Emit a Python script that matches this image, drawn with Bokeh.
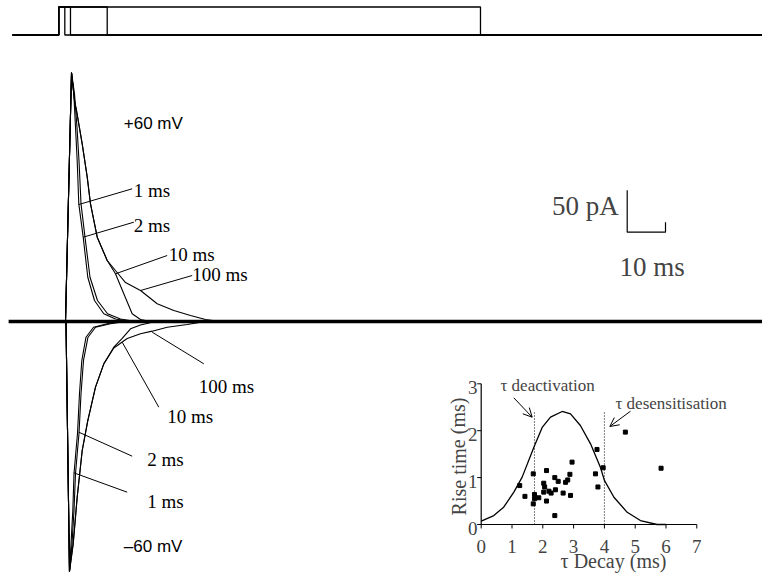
from bokeh.plotting import figure
from bokeh.models import Range1d, Label, Arrow, OpenHead
from bokeh.embed import file_html
from bokeh.resources import INLINE

# ---------------- data ----------------
# stimulus protocol: pulse durations (ms) and recording window (ms)
pulse_durations = [1.57, 3.05, 12.64, 110.1]
stim_window = [-12.1, 183.8]
record_window = [-13.1, 183.8]

# currents at +60 mV (time ms, current pA)
up_1ms_t = [1.75, 3.32, 3.92, 4.36, 4.80, 5.22, 6.37, 7.57, 9.32, 11.75, 14.80, 18.72]
up_1ms_i = [0, 296.4, 271.1, 231.3, 191.7, 140.1, 100.4, 52.7, 25.0, 9.2, 3.0, 0]
up_2ms_t = [1.75, 3.32, 4.10, 4.75, 5.27, 5.80, 6.84, 8.15, 10.10, 12.72, 16.11, 20.03]
up_2ms_i = [0, 296.4, 271.1, 231.3, 191.7, 140.1, 100.4, 52.7, 25.0, 9.2, 3.0, 0]
up_10ms_t = [1.75, 3.32, 4.10, 4.62, 6.11, 7.42, 8.28, 10.03, 12.64, 14.80, 16.97, 19.16, 21.33, 23.94]
up_10ms_i = [0, 296.4, 263.1, 251.2, 211.5, 171.8, 140.1, 100.4, 72.6, 56.8, 33.0, 9.2, 2.4, 0]
up_100ms_t = [1.75, 3.32, 4.10, 4.62, 6.11, 7.42, 8.28, 10.03, 12.64, 14.80, 17.42, 21.33, 25.69, 30.03, 34.39, 38.30, 42.22]
up_100ms_i = [0, 296.4, 263.1, 251.2, 211.5, 171.8, 140.1, 100.4, 72.6, 60.7, 46.4, 36.9, 21.1, 13.1, 7.1, 2.4, 0]

# currents at -60 mV
dn_1ms_t = [1.88, 2.79, 3.19, 3.66, 3.97, 4.49, 4.88, 5.40, 6.01, 7.10, 9.06, 12.64, 16.11]
dn_1ms_i = [0, -297.6, -264.6, -225.0, -181.3, -153.6, -133.7, -86.1, -46.4, -18.7, -6.8, -2.7, 0]
dn_2ms_t = [1.88, 2.79, 3.45, 3.97, 4.36, 4.88, 5.27, 5.80, 6.45, 7.62, 9.58, 13.50, 17.42]
dn_2ms_i = [0, -297.6, -264.6, -225.0, -181.3, -153.6, -133.7, -86.1, -46.4, -18.7, -6.8, -2.7, 0]
dn_10ms_t = [1.88, 2.79, 3.76, 4.80, 6.11, 7.57, 9.58, 11.75, 14.36, 16.55, 18.72, 21.33, 25.25]
dn_10ms_i = [0, -297.6, -264.6, -209.2, -153.6, -117.9, -78.2, -50.4, -30.6, -20.2, -8.7, -4.2, 0]
dn_100ms_t = [1.88, 2.79, 3.76, 4.80, 6.11, 7.57, 9.58, 11.75, 14.36, 17.86, 21.33, 24.39, 28.30, 33.52, 38.30]
dn_100ms_i = [0, -297.6, -264.6, -209.2, -153.6, -117.9, -78.2, -50.4, -31.5, -20.2, -14.6, -11.5, -6.8, -3.6, 0]

# scale bar
scale_pA = 50
scale_ms = 10

# inset: tau decay (ms) vs rise time (ms)
decay_tau = [1.25, 1.42, 1.69, 1.73, 1.69, 1.73, 1.87, 2.03, 2.06, 2.12, 2.03, 2.12, 2.20,
             2.27, 2.39, 2.41, 2.50, 2.39, 2.66, 2.74, 2.81, 2.88, 2.90, 2.95, 3.71, 3.76,
             3.79, 3.96, 4.68, 5.84]
rise_time = [0.83, 0.60, 1.08, 0.64, 0.44, 0.55, 0.57, 0.88, 0.80, 1.15, 0.69, 0.50, 0.71,
             0.67, 1.00, 0.74, 0.92, 0.19, 0.67, 0.90, 0.95, 1.07, 0.62, 1.33, 1.08, 1.60,
             0.80, 1.21, 1.97, 1.20]
curve_tau = [0.0, 0.41, 0.73, 1.06, 1.33, 1.73, 1.98, 2.25, 2.63, 2.90, 3.22, 3.55, 3.87,
             4.00, 4.31, 4.74, 5.17, 5.71, 6.0]
curve_amp = [0.07, 0.19, 0.37, 0.69, 1.01, 1.68, 2.07, 2.29, 2.41, 2.36, 2.11, 1.72, 1.22,
             0.94, 0.58, 0.26, 0.085, 0.0, 0.0]
tau_deactivation = 1.73
tau_desensitisation = 4.0
marker_top = 2.39
inset_xticks = [0, 1, 2, 3, 4, 5, 6, 7]
inset_yticks = [0, 1, 2, 3]

# ---------------- layout helpers (pixel geometry) ----------------
W, H = 762, 577
OFF = 0
MS_PX, T0_PX = 3.83, 58.3
PA_PX, BASE_PX = 0.84, 321.0
S0_PX, S_PX = 34.5, 28.0
IX0, IXS = 480.7, 30.8
IY0, IYS = 524.0, 46.9


def tx(px):
    return (px - T0_PX) / MS_PX


def ty(py):
    return (BASE_PX - py) / PA_PX


def ix(px):
    return (px - IX0) / IXS


def iy(py):
    return (IY0 - py) / IYS


def sy(py):
    return (S0_PX - py) / S_PX


p = figure(width=W, height=H, output_backend="svg", toolbar_location=None,
           x_axis_type=None, y_axis_type=None,
           x_range=Range1d(tx(OFF), tx(OFF + W)),
           y_range=Range1d(ty(OFF + H), ty(OFF)),
           min_border=0)
p.min_border_left = p.min_border_right = p.min_border_top = p.min_border_bottom = 0
p.outline_line_color = None
p.grid.visible = False
p.background_fill_color = "white"
p.border_fill_color = "white"
p.extra_y_ranges = {"stim": Range1d(sy(OFF + H), sy(OFF)),
                    "iy": Range1d(iy(OFF + H), iy(OFF))}
p.extra_x_ranges = {"ix": Range1d(ix(OFF), ix(OFF + W))}

# ---------------- stimulus protocol ----------------
for d in pulse_durations:
    p.line([stim_window[0], 0, 0, d, d, stim_window[1]], [0, 0, 1, 1, 0, 0],
           y_range_name="stim", line_color="black", line_width=1.3)

# ---------------- current traces ----------------
p.line(record_window, [0, 0], line_color="black", line_width=3.5)
for t, i in [(up_1ms_t, up_1ms_i), (up_2ms_t, up_2ms_i), (up_10ms_t, up_10ms_i),
             (up_100ms_t, up_100ms_i), (dn_1ms_t, dn_1ms_i), (dn_2ms_t, dn_2ms_i),
             (dn_10ms_t, dn_10ms_i), (dn_100ms_t, dn_100ms_i)]:
    p.line(t, i, line_color="black", line_width=1.1)

# leader lines (pixel endpoints)
leaders = [((78.3, 204), (131.7, 188.3)), ((82.7, 236.7), (133.3, 221.7)),
           ((115, 273.3), (166.7, 255)), ((140, 290), (191.7, 275)),
           ((151.7, 331.7), (203.3, 363.3)), ((121.7, 341.7), (158.3, 406.7)),
           ((78.3, 431.7), (131.7, 455.7)), ((73.3, 472.3), (126.7, 491.7))]
p.segment(x0=[tx(a[0]) for a, b in leaders], y0=[ty(a[1]) for a, b in leaders],
          x1=[tx(b[0]) for a, b in leaders], y1=[ty(b[1]) for a, b in leaders],
          line_color="black", line_width=1)

serif = "Liberation Serif"
labels = [("1 ms", 133.3, 190), ("2 ms", 133.3, 224.5), ("10 ms", 168.3, 254),
          ("100 ms", 191.7, 274), ("100 ms", 198.3, 386), ("10 ms", 166.7, 416),
          ("2 ms", 146.7, 459), ("1 ms", 146.7, 501)]
for txt, px, py in labels:
    p.add_layout(Label(x=tx(px), y=ty(py), text=txt, text_font=serif,
                       text_font_size="19px", text_align="left",
                       text_baseline="middle", text_color="black"))

for txt, py in [("+60 mV", 123.3), ("\u201360 mV", 546)]:
    p.add_layout(Label(x=tx(123.3), y=ty(py), text=txt, text_font="Liberation Sans",
                       text_font_size="17px", text_align="left",
                       text_baseline="middle", text_color="black"))

# ---------------- scale bar ----------------
sb_t0 = tx(626.7)
sb_i0 = ty(231.7)
p.line([sb_t0, sb_t0, sb_t0 + scale_ms, sb_t0 + scale_ms],
       [sb_i0 + scale_pA, sb_i0, sb_i0, sb_i0 + 10 / PA_PX],
       line_color="black", line_width=1.2)
p.add_layout(Label(x=tx(618.3), y=ty(205), text="50 pA", text_font=serif,
                   text_font_size="27px", text_align="right", text_baseline="middle"))
p.add_layout(Label(x=tx(651.7), y=ty(266.7), text="10 ms", text_font=serif,
                   text_font_size="27px", text_align="center", text_baseline="middle"))

# ---------------- inset ----------------
kw = dict(x_range_name="ix", y_range_name="iy")
p.line([0, inset_xticks[-1]], [0, 0], line_color="black", line_width=1.2, **kw)
p.line([0, 0], [0, inset_yticks[-1]], line_color="black", line_width=1.2, **kw)
p.segment(x0=inset_xticks, y0=[0] * len(inset_xticks), x1=inset_xticks,
          y1=[-4 / IYS] * len(inset_xticks), line_color="black", line_width=1, **kw)
p.segment(x0=[0] * len(inset_yticks), y0=inset_yticks, x1=[-4 / IXS] * len(inset_yticks),
          y1=inset_yticks, line_color="black", line_width=1, **kw)
for v in inset_xticks:
    p.add_layout(Label(x=v, y=iy(546), text=str(v), text_font=serif, text_font_size="19px",
                       text_align="center", text_baseline="middle", **kw))
for v in inset_yticks:
    p.add_layout(Label(x=ix(477), y=v - 4 / IYS, text=str(v), text_font=serif,
                       text_font_size="19px", text_align="right", text_baseline="middle", **kw))
p.add_layout(Label(x=ix(613), y=iy(560), text="\u03c4 Decay (ms)", text_font=serif,
                   text_font_size="20px", text_align="center", text_baseline="middle", **kw))
p.add_layout(Label(x=ix(458), y=iy(456), text="Rise time (ms)", text_font=serif,
                   text_font_size="20px", text_align="center", text_baseline="middle",
                   angle=1.5708, **kw))

p.line(curve_tau, curve_amp, line_color="black", line_width=1.3, **kw)
p.segment(x0=[tau_deactivation, tau_desensitisation], y0=[0, 0],
          x1=[tau_deactivation, tau_desensitisation], y1=[marker_top, marker_top],
          line_color="black", line_width=1, line_dash="1 2", **kw)
p.scatter(decay_tau, rise_time, marker="square", size=4, color="black", **kw)

p.add_layout(Label(x=ix(500), y=iy(385), text="\u03c4 deactivation", text_font=serif,
                   text_font_size="17px", text_align="left", text_baseline="middle", **kw))
p.add_layout(Label(x=ix(615), y=iy(403.3), text="\u03c4 desensitisation", text_font=serif,
                   text_font_size="17px", text_align="left", text_baseline="middle", **kw))
p.add_layout(Arrow(end=OpenHead(size=9, line_width=1), x_start=ix(513.3), y_start=iy(397.3),
                   x_end=ix(531.7), y_end=iy(416.7), line_width=1, **kw))
p.add_layout(Arrow(end=OpenHead(size=9, line_width=1), x_start=ix(630), y_start=iy(410.7),
                   x_end=ix(609.3), y_end=iy(426), line_width=1, **kw))

open("out.html", "w").write(file_html(p, INLINE))
